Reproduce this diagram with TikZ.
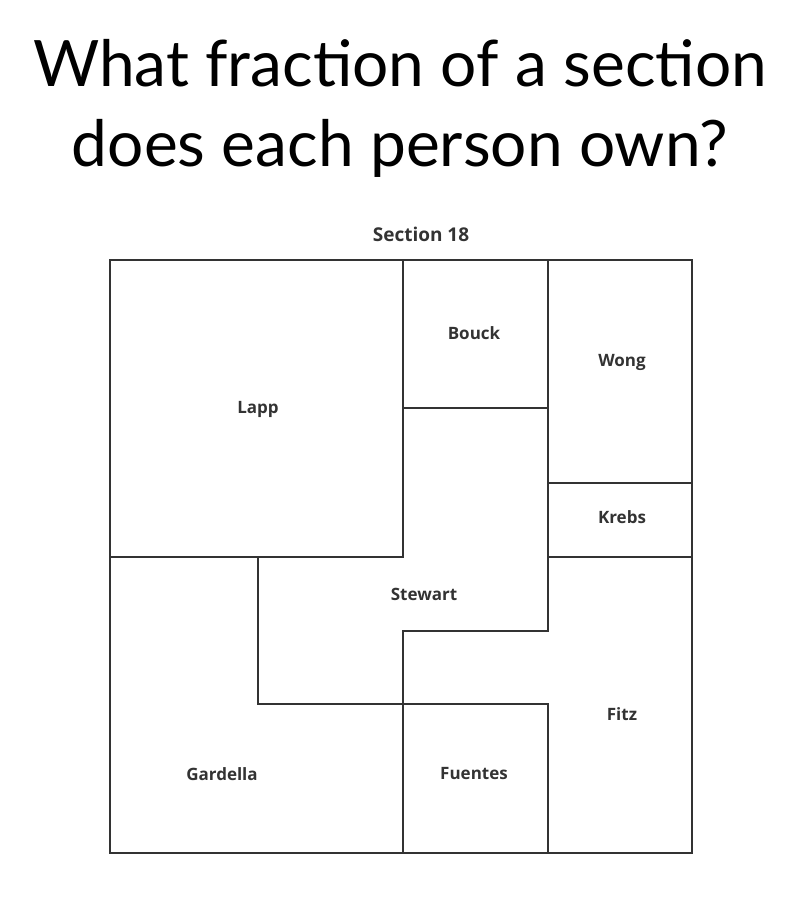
\documentclass[tikz,border=0pt]{standalone}
\usepackage{fontspec}
\setmainfont{Lato}
\newfontfamily\lbl{Open Sans}
\begin{document}
\begin{tikzpicture}[x=1pt,y=-1pt,
  lab/.style={font=\lbl\fontsize{17}{20}\selectfont\bfseries, text=black!80},
  ln/.style={line width=1.3pt, draw=black!80}]
\useasboundingbox (0,0) rectangle (800,920);
\node[font=\fontsize{64}{80}\selectfont, align=center] (t) at (400,108) {What fraction of a section\\does each person own?};
\node[lab, font=\lbl\fontsize{19}{22}\selectfont\bfseries] (s) at (421,234) {Section 18};
\draw[ln] (110,260) rectangle (692,853);
\draw[ln] (110,557) -- (403,557) -- (403,260);
\draw[ln] (403,408) -- (548,408);
\draw[ln] (548,260) -- (548,631) -- (403,631) -- (403,853);
\draw[ln] (548,483) -- (692,483);
\draw[ln] (548,557) -- (692,557);
\draw[ln] (258,557) -- (258,704) -- (548,704) -- (548,853);
\node[lab] (lapp) at (258,409) {Lapp};
\node[lab] (bouck) at (474,333) {Bouck};
\node[lab] (wong) at (622,362) {Wong};
\node[lab] (krebs) at (622,517) {Krebs};
\node[lab] (stewart) at (424,594) {Stewart};
\node[lab] (fitz) at (622,714) {Fitz};
\node[lab] (gard) at (222,774) {Gardella};
\node[lab] (fuen) at (474,774) {Fuentes};
\end{tikzpicture}
\end{document}
